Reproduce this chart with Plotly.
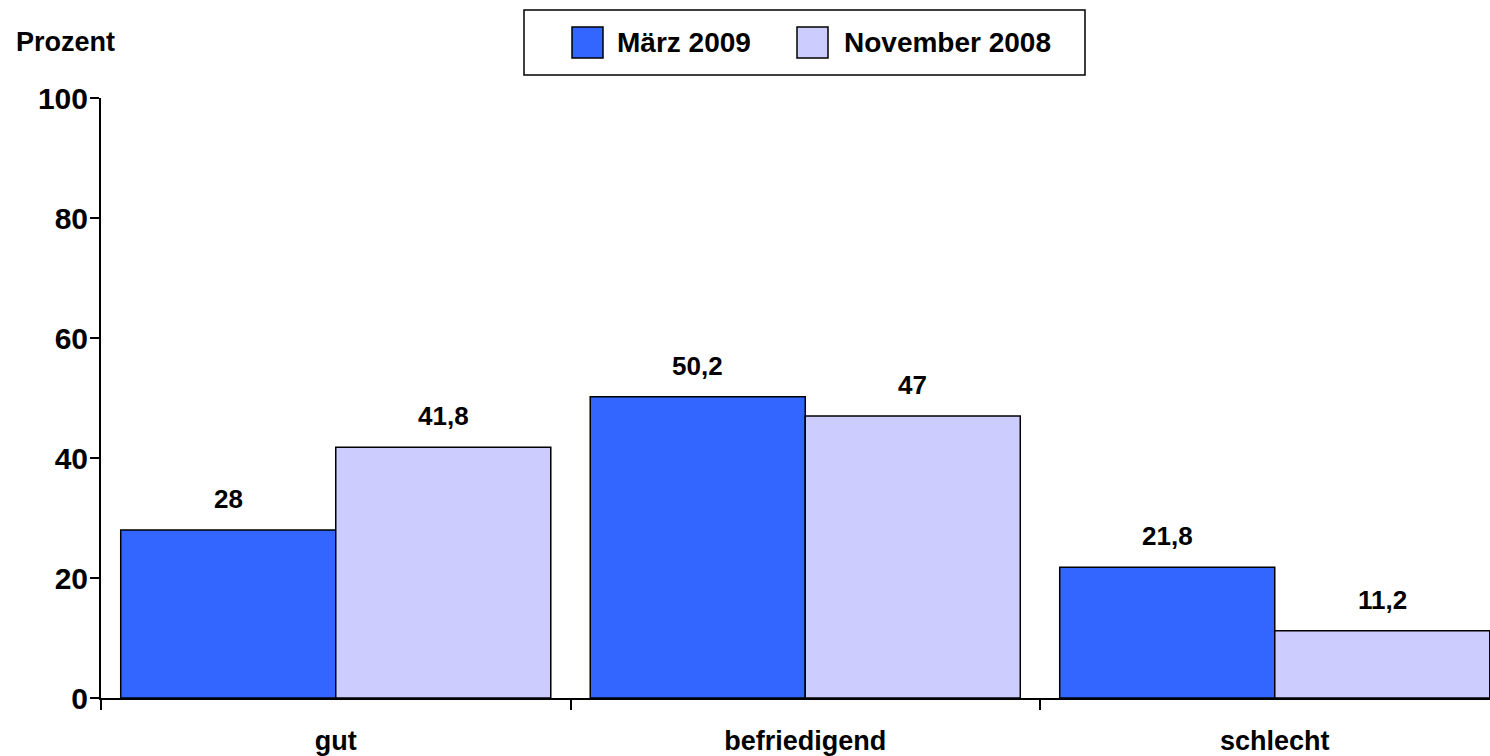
import plotly.graph_objects as go

categories = ["gut", "befriedigend", "schlecht"]
series_names = ["März 2009", "November 2008"]
maerz_2009 = [28, 50.2, 21.8]
november_2008 = [41.8, 47, 11.2]
series_values = [maerz_2009, november_2008]
colors = ["#3366FF", "#CCCCFF"]
y_ticks = [0, 20, 40, 60, 80, 100]

W, H = 1490, 756
L, R, T, B = 101, 0, 98, 58
plot_w = W - L - R
plot_h = H - T - B
FONT = "Liberation Sans, Arial, sans-serif"

def fmt(v):
    s = ("%g" % v)
    return s.replace(".", ",")

bargap = 0.084
fig = go.Figure()
for name, vals, col in zip(series_names, series_values, colors):
    fig.add_trace(go.Bar(
        x=categories, y=vals, name=name,
        marker=dict(color=col, line=dict(color="black", width=1.5)),
        showlegend=False,
    ))

# data labels
n = len(series_values)
bw = (1 - bargap) / n
annotations = []
for k, vals in enumerate(series_values):
    off = -(1 - bargap) / 2 + bw * (k + 0.5)
    for i, v in enumerate(vals):
        annotations.append(dict(
            x=i + off, y=v, xref="x", yref="y", text=fmt(v), showarrow=False,
            yanchor="middle", yshift=31,
            font=dict(family=FONT, size=26, color="black", weight="bold"),
        ))

def px(xp):
    return (xp - L) / plot_w

def py(yp):
    return (H - B - yp) / plot_h

# "Prozent" label
annotations.append(dict(
    x=px(14), y=py(42), xref="paper", yref="paper", text="Prozent",
    showarrow=False, xanchor="left", yanchor="middle",
    font=dict(family=FONT, size=27, color="black", weight="bold"),
))

# manual legend
shapes = [dict(type="rect", xref="paper", yref="paper",
               x0=px(524), x1=px(1085), y0=py(75), y1=py(10),
               line=dict(color="black", width=1.5), fillcolor="white")]
sw_x = [572, 797]
txt_x = [615, 842]
for name, col, sx, tx in zip(series_names, colors, sw_x, txt_x):
    shapes.append(dict(type="rect", xref="paper", yref="paper",
                       x0=px(sx), x1=px(sx + 31), y0=py(58), y1=py(27),
                       line=dict(color="black", width=1.5), fillcolor=col))
    annotations.append(dict(
        x=px(tx), y=py(42), xref="paper", yref="paper", text=name,
        showarrow=False, xanchor="left", yanchor="middle",
        font=dict(family=FONT, size=28, color="black", weight="bold"),
    ))

x_right = -0.5 + plot_w / 469.5

fig.update_layout(
    width=W, height=H,
    margin=dict(l=L, r=R, t=T, b=B, pad=0),
    paper_bgcolor="white", plot_bgcolor="white",
    barmode="group", bargap=bargap, bargroupgap=0,
    annotations=annotations, shapes=shapes,
    font=dict(family=FONT, color="black"),
    showlegend=False,
)
fig.update_xaxes(
    range=[-0.5, x_right], showgrid=False, showline=True, linecolor="black",
    linewidth=2, ticks="outside", tickson="boundaries", ticklen=10,
    tickwidth=1.5, tickcolor="black", ticklabelstandoff=18,
    tickfont=dict(family=FONT, size=27, color="black", weight="bold"),
)
fig.update_yaxes(
    range=[0, 100], tickvals=y_ticks, showgrid=False, showline=True,
    linecolor="black", linewidth=2, ticks="outside", ticklen=9,
    tickwidth=1.5, tickcolor="black", zeroline=False, ticklabelstandoff=-4,
    tickfont=dict(family=FONT, size=30, color="black", weight="bold"),
)

fig.write_html("out.html", config={"displayModeBar": False},
               post_script="document.body.style.margin='0';")
